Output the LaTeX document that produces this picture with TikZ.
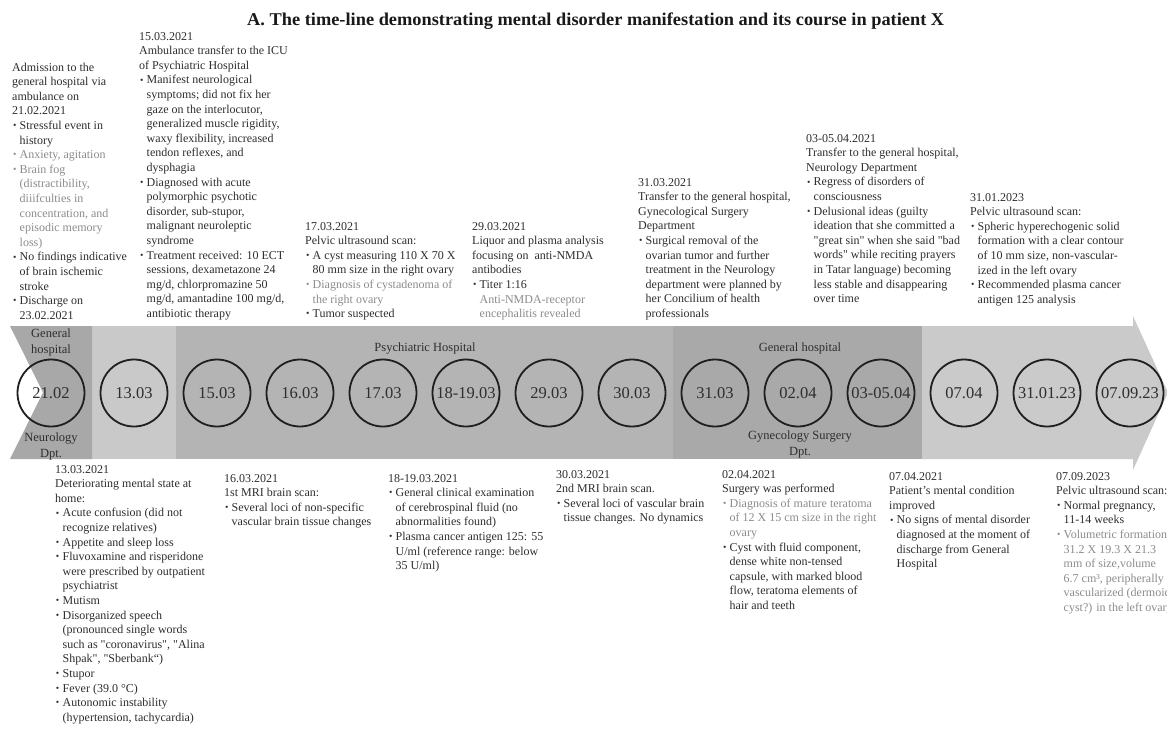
\documentclass[tikz,border=0pt]{standalone}
\usepackage{fontspec}
\setmainfont{Liberation Serif}
\definecolor{txtc}{HTML}{2E2E2E}
\definecolor{gtxt}{HTML}{8C8C8C}
\definecolor{segA}{HTML}{A8A8A8}
\definecolor{segB}{HTML}{C9C9C9}
\definecolor{segC}{HTML}{B4B4B4}
\definecolor{segD}{HTML}{A9A9A9}
\definecolor{segE}{HTML}{CACACA}
\newcommand{\bulit}{\makebox[7.5pt][l]{\hspace{0.8pt}\raisebox{0.12ex}{\scalebox{0.8}{\textbullet}}}}
\newcommand{\itind}{\hspace*{7.5pt}}
\newcommand{\dq}{\textquotedbl}
\newcommand{\blk}[1]{\begin{tabular}[t]{@{}l@{}}#1\end{tabular}}
\newcommand{\cblk}[1]{\begin{tabular}[t]{@{}c@{}}#1\end{tabular}}
\newcommand{\gr}[1]{\textcolor{gtxt}{#1}}
\tikzset{
  txtblk/.style={inner sep=0pt, anchor=base west, text=txtc, font=\fontsize{12}{14.6}\selectfont},
  bandlbl/.style={inner sep=0pt, anchor=base, text=txtc, font=\fontsize{12.5}{16}\selectfont},
  dcirc/.style={circle, draw=black!88, line width=1.8pt, minimum size=67pt, inner sep=0pt, text=txtc, font=\fontsize{16.5}{18}\selectfont}
}
\begin{document}
\begin{tikzpicture}[x=1pt,y=-1pt]
\useasboundingbox (0,0) rectangle (1167,729);
\fill[white] (0,0) rectangle (1167,729);
% band
\fill[segA] (10,326) -- (92.5,326) -- (92.5,459) -- (10,459) -- (43,392.5) -- cycle;
\fill[segB] (92.5,326) rectangle (175.5,459);
\fill[segC] (175.5,326) rectangle (673,459);
\fill[segD] (673,326) rectangle (922,459);
\fill[segE] (922,326) -- (1133,326) -- (1133,316) -- (1168,392.5) -- (1133,470) -- (1133,459) -- (922,459) -- cycle;
% title
\node[inner sep=0pt, anchor=base west, text=black!90, font=\bfseries\fontsize{18}{20}\selectfont] (title) at (247,25)
  {\resizebox{697pt}{\height}{A. The time-line demonstrating mental disorder manifestation and its course in patient X}};
% band labels
\node[bandlbl] (lg1) at (51,337) {\cblk{General\\hospital}};
\node[bandlbl] (ln1) at (51,441) {\cblk{Neurology\\Dpt.}};
\node[bandlbl] (lpsy) at (425,351) {Psychiatric Hospital};
\node[bandlbl] (lg2) at (800,351) {General hospital};
\node[bandlbl] (lgyn) at (800,439) {\cblk{Gynecology Surgery\\Dpt.}};
% circles
\node[dcirc] (c1) at (51,393) {21.02};
\node[dcirc] (c2) at (134,393) {13.03};
\node[dcirc] (c3) at (217,393) {15.03};
\node[dcirc] (c4) at (300,393) {16.03};
\node[dcirc] (c5) at (383,393) {17.03};
\node[dcirc] (c6) at (466,393) {18-19.03};
\node[dcirc] (c7) at (549,393) {29.03};
\node[dcirc] (c8) at (632,393) {30.03};
\node[dcirc] (c9) at (715,393) {31.03};
\node[dcirc] (c10) at (798,393) {02.04};
\node[dcirc] (c11) at (881,393) {03-05.04};
\node[dcirc] (c12) at (964,393) {07.04};
\node[dcirc] (c13) at (1047,393) {31.01.23};
\node[dcirc] (c14) at (1130,393) {07.09.23};
% top blocks
\node[txtblk] (b1) at (12,71) {\blk{Admission to the\\ general hospital via\\ ambulance on\\ 21.02.2021\\
\bulit Stressful event in\\ \itind history\\
\gr{\bulit Anxiety, agitation}\\
\gr{\bulit Brain fog}\\ \gr{\itind (distractibility,}\\ \gr{\itind diiifculties in}\\ \gr{\itind concentration, and}\\ \gr{\itind episodic memory}\\ \gr{\itind loss)}\\
\bulit No findings indicative\\ \itind of brain ischemic\\ \itind stroke\\
\bulit Discharge on\\ \itind 23.02.2021}};
\node[txtblk] (b2) at (139,40) {\blk{15.03.2021\\ Ambulance transfer to the ICU\\ of Psychiatric Hospital\\
\bulit Manifest neurological\\ \itind symptoms; did not fix her\\ \itind gaze on the interlocutor,\\ \itind generalized muscle rigidity,\\ \itind waxy flexibility, increased\\ \itind tendon reflexes, and\\ \itind dysphagia\\
\bulit Diagnosed with acute\\ \itind polymorphic psychotic\\ \itind disorder, sub-stupor,\\ \itind malignant neuroleptic\\ \itind syndrome\\
\bulit Treatment received: 10 ECT\\ \itind sessions, dexametazone 24\\ \itind mg/d, chlorpromazine 50\\ \itind mg/d, amantadine 100 mg/d,\\ \itind antibiotic therapy}};
\node[txtblk] (b3) at (305,230) {\blk{17.03.2021\\ Pelvic ultrasound scan:\\
\bulit A cyst measuring 110 X 70 X\\ \itind 80 mm size in the right ovary\\
\gr{\bulit Diagnosis of cystadenoma of}\\ \gr{\itind the right ovary}\\
\bulit Tumor suspected}};
\node[txtblk] (b4) at (472,230) {\blk{29.03.2021\\ Liquor and plasma analysis\\ focusing on \ anti-NMDA\\ antibodies\\
\bulit Titer 1:16\\ \gr{\itind Anti-NMDA-receptor}\\ \gr{\itind encephalitis revealed}}};
\node[txtblk] (b5) at (638,186) {\blk{31.03.2021\\ Transfer to the general hospital,\\ Gynecological Surgery\\ Department\\
\bulit Surgical removal of the\\ \itind ovarian tumor and further\\ \itind treatment in the Neurology\\ \itind department were planned by\\ \itind her Concilium of health\\ \itind professionals}};
\node[txtblk] (b6) at (806,142) {\blk{03-05.04.2021\\ Transfer to the general hospital,\\ Neurology Department\\
\bulit Regress of disorders of\\ \itind consciousness\\
\bulit Delusional ideas (guilty\\ \itind ideation that she committed a\\ \itind \dq great sin\dq{} when she said \dq bad\\ \itind words\dq{} while reciting prayers\\ \itind in Tatar language) becoming\\ \itind less stable and disappearing\\ \itind over time}};
\node[txtblk] (b7) at (970,201) {\blk{31.01.2023\\ Pelvic ultrasound scan:\\
\bulit Spheric hyperechogenic solid\\ \itind formation with a clear contour\\ \itind of 10 mm size, non-vascular-\\ \itind ized in the left ovary\\
\bulit Recommended plasma cancer\\ \itind antigen 125 analysis}};
% bottom blocks
\node[txtblk] (d1) at (55,473) {\blk{13.03.2021\\ Deteriorating mental state at\\ home:\\
\bulit Acute confusion (did not\\ \itind recognize relatives)\\
\bulit Appetite and sleep loss\\
\bulit Fluvoxamine and risperidone\\ \itind were prescribed by outpatient\\ \itind psychiatrist\\
\bulit Mutism\\
\bulit Disorganized speech\\ \itind (pronounced single words\\ \itind such as \dq coronavirus\dq, \dq Alina\\ \itind Shpak\dq, \dq Sberbank“)\\
\bulit Stupor\\
\bulit Fever (39.0 °C)\\
\bulit Autonomic instability\\ \itind (hypertension, tachycardia)}};
\node[txtblk] (d2) at (224,482) {\blk{16.03.2021\\ 1st MRI brain scan:\\
\bulit Several loci of non-specific\\ \itind vascular brain tissue changes}};
\node[txtblk] (d3) at (388,482) {\blk{18-19.03.2021\\
\bulit General clinical examination\\ \itind of cerebrospinal fluid (no\\ \itind abnormalities found)\\
\bulit Plasma cancer antigen 125: 55\\ \itind U/ml (reference range: below\\ \itind 35 U/ml)}};
\node[txtblk] (d4) at (556,478) {\blk{30.03.2021\\ 2nd MRI brain scan.\\
\bulit Several loci of vascular brain\\ \itind tissue changes. No dynamics}};
\node[txtblk] (d5) at (722,478) {\blk{02.04.2021\\ Surgery was performed\\
\gr{\bulit Diagnosis of mature teratoma}\\ \gr{\itind of 12 X 15 cm size in the right}\\ \gr{\itind ovary}\\
\bulit Cyst with fluid component,\\ \itind dense white non-tensed\\ \itind capsule, with marked blood\\ \itind flow, teratoma elements of\\ \itind hair and teeth}};
\node[txtblk] (d6) at (889,480) {\blk{07.04.2021\\ Patient’s mental condition\\ improved\\
\bulit No signs of mental disorder\\ \itind diagnosed at the moment of\\ \itind discharge from General\\ \itind Hospital}};
\node[txtblk] (d7) at (1056,480) {\blk{07.09.2023\\ Pelvic ultrasound scan:\\
\bulit Normal pregnancy,\\ \itind 11-14 weeks\\
\gr{\bulit Volumetric formation}\\ \gr{\itind 31.2 X 19.3 X 21.3}\\ \gr{\itind mm of size,volume}\\ \gr{\itind 6.7 cm³, peripherally}\\ \gr{\itind vascularized (dermoid}\\ \gr{\itind cyst?) in the left ovary}}};
\end{tikzpicture}
\end{document}
